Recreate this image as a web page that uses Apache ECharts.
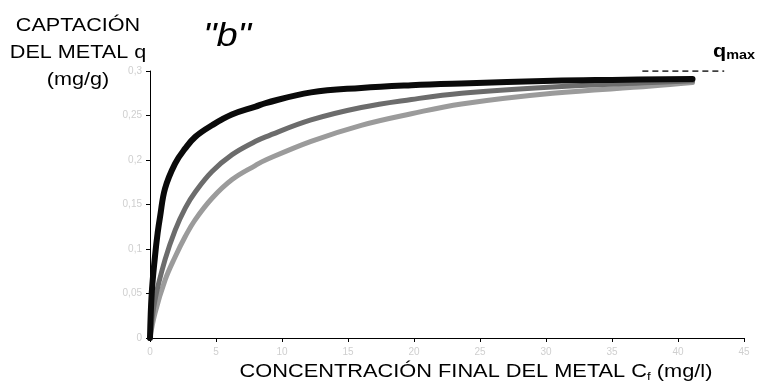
<!DOCTYPE html>
<html><head><meta charset="utf-8">
<script src="https://cdn.jsdelivr.net/npm/echarts@6/dist/echarts.min.js"></script>
<style>html,body{margin:0;padding:0;background:#fff}#c{width:759px;height:387px}</style>
</head><body><div id="c"></div>
<script>
var xTicks = [0,5,10,15,20,25,30,35,40,45];
var yTicks = [0,0.05,0.1,0.15,0.2,0.25,0.3];
var blackC = [0,0.13,0.38,0.58,0.76,1.14,1.9,2.67,3.43,4.7,6.2,8.0,8.76,12.2,16,19.8,23.6,30.5,35,41.1];
var blackQ = [0,0.05,0.092,0.118,0.136,0.168,0.196,0.213,0.226,0.239,0.251,0.26,0.264,0.276,0.281,0.284,0.286,0.289,0.290,0.291];
var darkC = [0,0.38,1.14,1.9,2.67,3.43,4.7,6.22,8.0,8.76,12.2,16,19.8,23.6,30.5,38,41.1];
var darkQ = [0,0.043,0.088,0.121,0.146,0.164,0.187,0.206,0.221,0.226,0.245,0.259,0.268,0.275,0.282,0.287,0.289];
var lightC = [0,0.38,1.14,1.9,2.67,3.43,4.7,6.22,8.0,8.76,12.2,16,19.8,23.6,30.5,38,41.1];
var lightQ = [0,0.028,0.065,0.091,0.114,0.133,0.157,0.178,0.194,0.2,0.221,0.239,0.252,0.263,0.275,0.283,0.287];
var qmaxC = [37.3,43.5];
var qmaxQ = [0.3,0.3];

function pairs(a,b){return a.map(function(v,i){return [v,b[i]];});}
var chart = echarts.init(document.getElementById('c'));
var FF = 'Liberation Sans, Arial';
var lab = {color:'#cfcfcf', fontSize:10, fontFamily:FF, formatter:function(v){return String(v).replace('.',',');}};
chart.setOption({
  animation:false,
  grid:{left:150,right:15,top:71,bottom:49},
  xAxis:{type:'value',min:0,max:45,interval:5,
    axisLine:{lineStyle:{color:'#000',width:1}},
    axisTick:{show:true,length:4,lineStyle:{color:'#000'}},
    axisLabel:Object.assign({margin:9},lab),
    splitLine:{show:false}},
  yAxis:{type:'value',min:0,max:0.3,interval:0.05,
    axisLine:{show:true,lineStyle:{color:'#000',width:1}},
    axisTick:{show:true,length:4,lineStyle:{color:'#000'}},
    axisLabel:Object.assign({margin:8},lab),
    splitLine:{show:false}},
  series:[
    {type:'line',data:pairs(lightC,lightQ),smooth:0.4,showSymbol:false,z:2,lineStyle:{color:'#9b9b9b',width:5,cap:'round'}},
    {type:'line',data:pairs(darkC,darkQ),smooth:0.4,showSymbol:false,z:3,lineStyle:{color:'#6c6c6c',width:5,cap:'round'}},
    {type:'line',data:pairs(blackC,blackQ),smooth:0.4,showSymbol:false,z:4,lineStyle:{color:'#0a0a0a',width:6,cap:'round'}},
    {type:'line',data:pairs(qmaxC,qmaxQ),showSymbol:false,z:5,lineStyle:{color:'#000',width:1.5,type:[6,4]}}
  ],
  graphic:[
    {type:'text',x:78,y:13,scaleX:1.2,style:{text:'CAPTACIÓN\nDEL METAL q\n(mg/g)',x:0,y:0,textAlign:'center',fontSize:18,lineHeight:27,fontFamily:FF,fill:'#000'}},
    {type:'text',x:227,y:20,scaleX:1.12,style:{text:'"b"',x:0,y:0,textAlign:'center',fontSize:34,fontStyle:'italic',fontFamily:FF,fill:'#000'}},
    {type:'text',x:713,y:42,scaleX:1.2,style:{text:'{q|q}{s|max}',x:0,y:0,rich:{q:{fontSize:18,fontWeight:'bold',fontFamily:FF,fill:'#000'},s:{fontSize:12,fontWeight:'bold',fontFamily:FF,fill:'#000',padding:[8,0,0,0]}}}},
    {type:'text',x:476,y:363,scaleX:1.21,style:{text:'{a|CONCENTRACIÓN FINAL DEL METAL C}{s|f}{a| (mg/l)}',x:0,y:0,textAlign:'center',rich:{a:{fontSize:18,fontFamily:FF,fill:'#000'},s:{fontSize:11,fontFamily:FF,fill:'#000',padding:[8,0,0,0]}}}}
  ]
});
</script></body></html>
